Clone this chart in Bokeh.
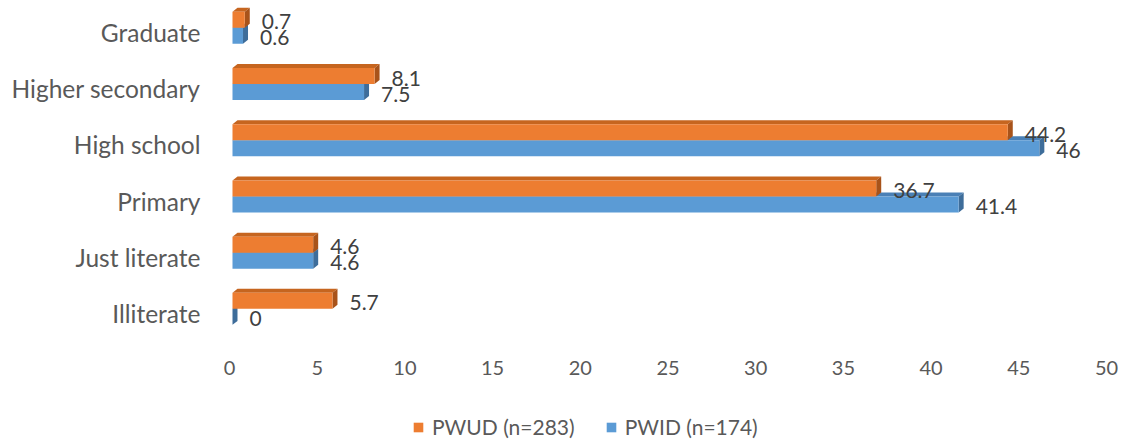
import numpy as np
from bokeh.plotting import figure
from bokeh.models import ColumnDataSource, Range1d, FixedTicker, Legend, LegendItem
from bokeh.transform import dodge
from bokeh.core.properties import value
from bokeh.embed import file_html
from bokeh.resources import INLINE

# ---- data (bottom to top) ----
categories = ["Illiterate", "Just literate", "Primary", "High school", "Higher secondary", "Graduate"]
pwud = [5.7, 4.6, 36.7, 44.2, 8.1, 0.7]
pwid = [0.0, 4.6, 41.4, 46.0, 7.5, 0.6]
pwud_name = "PWUD (n=283)"
pwid_name = "PWID (n=174)"
x_ticks = [0, 5, 10, 15, 20, 25, 30, 35, 40, 45, 50]

FONT = "Lato"
ORANGE, ORANGE_TOP, ORANGE_SIDE = "#ED7D31", "#C6651F", "#A8531A"
BLUE, BLUE_TOP, BLUE_SIDE = "#5B9BD5", "#4A80B6", "#3E6D9A"

idx = np.arange(len(categories))
src = ColumnDataSource(dict(idx=idx, pwud=pwud, pwid=pwid,
                            pwud_lbl=[("%g" % v) for v in pwud],
                            pwid_lbl=[("%g" % v) for v in pwid]))
tick_src = ColumnDataSource(dict(x=x_ticks, y=[-0.5] * len(x_ticks),
                                 t=[str(t) for t in x_ticks]))

p = figure(width=1121, height=439, output_backend="svg", toolbar_location=None,
           x_range=Range1d(-1.14, 50.684), y_range=Range1d(-2.242, 5.569),
           x_axis_location=None,
           min_border_left=212, min_border_right=0, min_border_top=0,
           min_border_bottom=0)
p.outline_line_color = None
p.grid.visible = False
p.background_fill_color = "white"

H = 0.285          # bar thickness in category units
OFF_O, OFF_B = 0.225, -0.06
DX, DY = 0.285, 0.071   # 3D depth


def faces(vals, off):
    tx, ty, sx, sy = [], [], [], []
    for i, v in zip(idx, vals):
        b = i + off - H / 2
        t = i + off + H / 2
        tx.append([0, v, v + DX, DX]); ty.append([t, t, t + DY, t + DY])
        sx.append([v, v, v + DX, v + DX]); sy.append([b, t, t + DY, b + DY])
    return tx, ty, sx, sy


for vals, off, col, top, side in [(pwid, OFF_B, BLUE, BLUE_TOP, BLUE_SIDE),
                                  (pwud, OFF_O, ORANGE, ORANGE_TOP, ORANGE_SIDE)]:
    tx, ty, sx, sy = faces(vals, off)
    p.patches(tx, ty, fill_color=top, line_color=None)
    p.patches(sx, sy, fill_color=side, line_color=None)

r_b = p.hbar(y=dodge("idx", OFF_B), right="pwid", left=0, height=H, source=src,
             fill_color=BLUE, line_color=None)
r_o = p.hbar(y=dodge("idx", OFF_O), right="pwud", left=0, height=H, source=src,
             fill_color=ORANGE, line_color=None)

for col, lbl, off in [("pwud", "pwud_lbl", OFF_O), ("pwid", "pwid_lbl", OFF_B)]:
    p.text(x=col, y=dodge("idx", off), text=lbl, source=src, x_offset=17, y_offset=2,
           text_align="left", text_baseline="middle", text_color="#404040",
           text_font=value(FONT), text_font_size="21px")

# value-axis tick labels (drawn on the 3D "floor" below the bars)
p.text(x="x", y="y", text="t", source=tick_src, x_offset=-3, y_offset=26,
       text_align="center", text_baseline="middle", text_color="#595959",
       text_font=value(FONT), text_font_size="20px")

p.yaxis.ticker = FixedTicker(ticks=list(idx))
p.yaxis.major_label_overrides = {int(i): c for i, c in zip(idx, categories)}
ax = p.yaxis[0]
ax.axis_line_color = None
ax.major_tick_line_color = None
ax.minor_tick_line_color = None
ax.major_label_text_color = "#595959"
ax.major_label_text_font = FONT
ax.major_label_text_font_size = "24.5px"
ax.major_label_standoff = 6

legend = Legend(items=[LegendItem(label=pwud_name, renderers=[r_o]),
                       LegendItem(label=pwid_name, renderers=[r_b])],
                orientation="horizontal", location=(200, 0),
                glyph_width=12, glyph_height=12, label_standoff=8, spacing=30,
                label_text_font=FONT, label_text_font_size="21px",
                label_text_color="#595959", border_line_color=None,
                background_fill_alpha=0, margin=0, padding=0)
p.add_layout(legend, "center")

open("out.html", "w").write(file_html(p, INLINE))
